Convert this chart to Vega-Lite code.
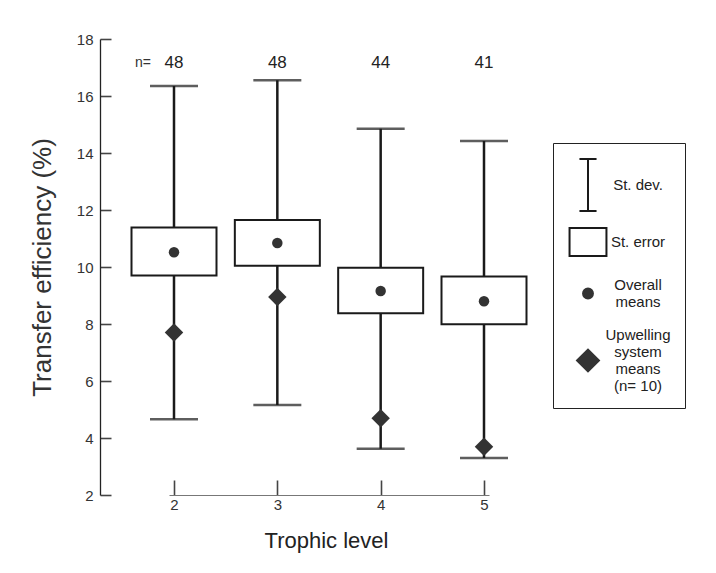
{
  "$schema": "https://vega.github.io/schema/vega-lite/v6.json",
  "autosize": "none",
  "width": 430,
  "height": 456,
  "padding": {"left": 100, "top": 39, "right": 186, "bottom": 78},
  "background": "white",
  "config": {
    "view": {"stroke": null},
    "font": "Liberation Sans",
    "axis": {"grid": false, "labelFont": "Liberation Sans", "titleFont": "Liberation Sans", "labelColor": "#333", "titleColor": "#333", "titleFontWeight": "normal", "tickColor": "#444", "tickWidth": 1.6, "domainColor": "#222"},
    "legend": {"labelFont": "Liberation Sans"}
  },
  "data": {
    "values": [
      {"level": 2, "sdLow": 4.66, "sdHigh": 16.35, "seLow": 9.70, "seHigh": 11.39, "mean": 10.52, "upwelling": 7.70, "n": "48"},
      {"level": 3, "sdLow": 5.16, "sdHigh": 16.55, "seLow": 10.04, "seHigh": 11.65, "mean": 10.84, "upwelling": 8.95, "n": "48"},
      {"level": 4, "sdLow": 3.62, "sdHigh": 14.85, "seLow": 8.38, "seHigh": 9.97, "mean": 9.16, "upwelling": 4.69, "n": "44"},
      {"level": 5, "sdLow": 3.30, "sdHigh": 14.42, "seLow": 7.99, "seHigh": 9.67, "mean": 8.80, "upwelling": 3.69, "n": "41"}
    ]
  },
  "encoding": {
    "x": {
      "field": "level", "type": "quantitative",
      "scale": {"domain": [2, 5], "range": [69, 389], "nice": false, "zero": false},
      "axis": {"values": [2, 3, 4, 5], "tickSize": -15, "labelPadding": 17, "labelFontSize": 15, "domainColor": "#777", "domainWidth": 1, "title": "Trophic level", "titleFontSize": 22, "titlePadding": 18, "titleX": 226, "titleColor": "#222"}
    }
  },
  "layer": [
    {
      "mark": {"type": "rule", "color": "#1a1a1a", "strokeWidth": 2.5},
      "encoding": {
        "y": {"field": "sdLow", "type": "quantitative", "scale": {"domain": [2, 18], "nice": false, "zero": false},
          "axis": {"values": [2, 4, 6, 8, 10, 12, 14, 16, 18], "tickSize": -11, "labelPadding": 18, "labelFontSize": 15, "domainWidth": 1.3, "title": "Transfer efficiency (%)", "titleFontSize": 26, "titlePadding": 21}},
        "y2": {"field": "sdHigh"}
      }
    },
    {
      "mark": {"type": "tick", "orient": "horizontal", "color": "#1a1a1a", "size": 48, "thickness": 2.5},
      "encoding": {"y": {"field": "sdLow", "type": "quantitative"}}
    },
    {
      "mark": {"type": "tick", "orient": "horizontal", "color": "#1a1a1a", "size": 48, "thickness": 2.5},
      "encoding": {"y": {"field": "sdHigh", "type": "quantitative"}}
    },
    {
      "mark": {"type": "bar", "width": 85, "fill": "white", "stroke": "#1a1a1a", "strokeWidth": 2},
      "encoding": {"y": {"field": "seLow", "type": "quantitative"}, "y2": {"field": "seHigh"}}
    },
    {
      "mark": {"type": "point", "shape": "circle", "filled": true, "size": 110, "color": "#333", "opacity": 1},
      "encoding": {"y": {"field": "mean", "type": "quantitative"}}
    },
    {
      "mark": {"type": "point", "shape": "diamond", "filled": true, "size": 340, "color": "#333", "opacity": 1},
      "encoding": {"y": {"field": "upwelling", "type": "quantitative"}}
    },
    {
      "mark": {"type": "text", "fontSize": 17, "color": "#222", "baseline": "middle", "dy": 24},
      "encoding": {"y": {"datum": 18}, "text": {"field": "n"}}
    },
    {
      "transform": [{"filter": "datum.level == 2"}],
      "mark": {"type": "text", "fontSize": 14, "color": "#333", "baseline": "middle", "dy": 24, "dx": -31, "text": "n="},
      "encoding": {"y": {"datum": 18}}
    },
    {
      "data": {"values": []},
      "mark": {"type": "point", "filled": true, "strokeWidth": 2, "opacity": 1},
      "encoding": {
        "shape": {"field": "item", "type": "nominal",
          "scale": {"domain": ["St. dev.", "St. error", "Overall|means", "Upwelling|system|means|(n= 10)"],
            "range": ["M-0.57,-1.73H0.57M0,-1.73V1.73M-0.57,1.73H0.57", "M-1.23,-0.93H1.23V0.93H-1.23Z", "M-0.33,0.57A0.33,0.33,0,1,1,0.33,0.57A0.33,0.33,0,1,1,-0.33,0.57Z", "M-0.73,1.7L0,0.97L0.73,1.7L0,2.43Z"]},
          "legend": {"title": " ", "titleFontSize": 3, "titlePadding": 9, "orient": "none", "legendX": 453, "legendY": 104, "strokeColor": "#222", "padding": 14, "symbolSize": 900, "symbolStrokeWidth": 2, "symbolOffset": 5, "labelFontSize": 15, "labelColor": "#222", "labelAlign": "center", "labelBaseline": "middle", "labelOffset": 34, "rowPadding": 9, "labelExpr": "split(datum.value, '|')"}},
        "fill": {"field": "item", "type": "nominal",
          "scale": {"domain": ["St. dev.", "St. error", "Overall|means", "Upwelling|system|means|(n= 10)"], "range": ["transparent", "white", "#333", "#333"]}},
        "stroke": {"field": "item", "type": "nominal",
          "scale": {"domain": ["St. dev.", "St. error", "Overall|means", "Upwelling|system|means|(n= 10)"], "range": ["#1a1a1a", "#1a1a1a", "#333", "#333"]}}
      }
    }
  ]
}
